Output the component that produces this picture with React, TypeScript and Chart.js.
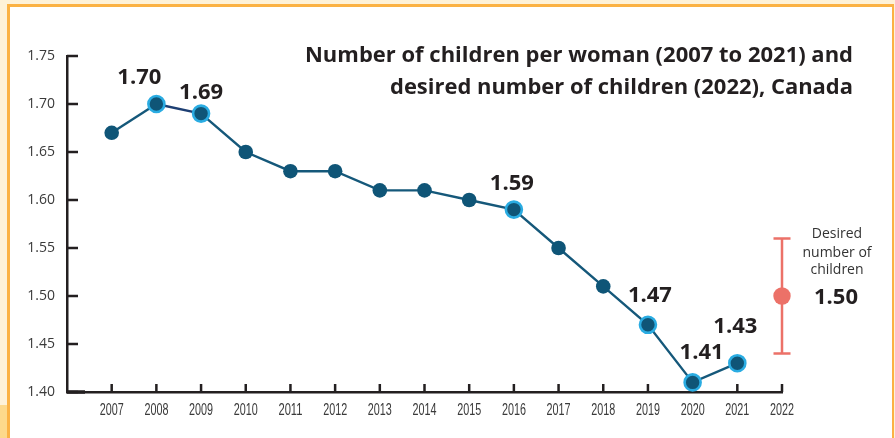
import React, { useEffect, useRef } from 'react';
import { Chart, registerables } from 'chart.js';

Chart.register(...registerables);

// ---- data ----
const years = [2007, 2008, 2009, 2010, 2011, 2012, 2013, 2014, 2015, 2016, 2017, 2018, 2019, 2020, 2021];
const childrenPerWoman = [1.67, 1.70, 1.69, 1.65, 1.63, 1.63, 1.61, 1.61, 1.60, 1.59, 1.55, 1.51, 1.47, 1.41, 1.43];
const highlightedYears = [2008, 2009, 2016, 2019, 2020, 2021];
const desiredYear = 2022;
const desiredValue = 1.50;
const desiredLow = 1.44;
const desiredHigh = 1.56;
const xTickYears = [2007, 2008, 2009, 2010, 2011, 2012, 2013, 2014, 2015, 2016, 2017, 2018, 2019, 2020, 2021, 2022];
const yTickValues = [1.40, 1.45, 1.50, 1.55, 1.60, 1.65, 1.70, 1.75];
const titleLines = [
  'Number of children per woman (2007 to 2021) and',
  'desired number of children (2022), Canada',
];
const desiredLabelLines = ['Desired', 'number of', 'children'];

// ---- layout (label offsets in px from their point) ----
const labelOffsets: Record<number, [number, number]> = {
  2008: [-17, -28],
  2009: [0, -23],
  2016: [-2, -28],
  2019: [2, -31],
  2020: [9, -31],
  2021: [-2, -38],
};

const NAVY = '#0f5577';
const LINE = '#15587a';
const LIGHT_BLUE = '#2aace2';
const SALMON = '#ec7168';
const INK = '#231f20';
const AXIS_TEXT = '#3a3a3a';
const ORANGE = '#fbb244';

const overlayPlugin = {
  id: 'overlay',
  beforeDatasetsDraw(chart: any) {
    const { ctx } = chart;
    const xs = chart.scales.x;
    const ys = chart.scales.y;
    const area = chart.chartArea;
    ctx.save();
    // inward ticks
    ctx.strokeStyle = INK;
    ctx.lineWidth = 2.5;
    ctx.beginPath();
    for (const v of yTickValues) {
      const y = ys.getPixelForValue(v);
      ctx.moveTo(area.left, y);
      ctx.lineTo(area.left + 11, y);
    }
    for (const v of xTickYears) {
      const x = xs.getPixelForValue(v);
      ctx.moveTo(x, area.bottom);
      ctx.lineTo(x, area.bottom - 8);
    }
    ctx.stroke();
    // thicker start of x axis
    ctx.beginPath();
    ctx.lineWidth = 3.5;
    ctx.moveTo(area.left, area.bottom);
    ctx.lineTo(area.left + 18, area.bottom);
    ctx.stroke();
    // x tick labels (condensed)
    ctx.fillStyle = AXIS_TEXT;
    ctx.font = '16px "Liberation Sans", "DejaVu Sans", sans-serif';
    ctx.textAlign = 'center';
    ctx.textBaseline = 'alphabetic';
    for (const v of xTickYears) {
      const x = xs.getPixelForValue(v);
      ctx.fillText(String(v), x, area.bottom + 22.5, 24);
    }
    // desired error bar
    const ex = xs.getPixelForValue(desiredYear);
    const yTop = ys.getPixelForValue(desiredHigh);
    const yBot = ys.getPixelForValue(desiredLow);
    ctx.strokeStyle = SALMON;
    ctx.lineWidth = 2.5;
    ctx.beginPath();
    ctx.moveTo(ex, yTop);
    ctx.lineTo(ex, yBot);
    ctx.moveTo(ex - 8.5, yTop);
    ctx.lineTo(ex + 8.5, yTop);
    ctx.moveTo(ex - 8.5, yBot);
    ctx.lineTo(ex + 8.5, yBot);
    ctx.stroke();
    ctx.restore();
  },
  afterDatasetsDraw(chart: any) {
    const { ctx } = chart;
    const xs = chart.scales.x;
    const ys = chart.scales.y;
    ctx.save();
    ctx.fillStyle = INK;
    ctx.textAlign = 'center';
    ctx.textBaseline = 'alphabetic';
    ctx.font = 'bold 22px "Open Sans", sans-serif';
    for (const yr of highlightedYears) {
      const i = years.indexOf(yr);
      const v = childrenPerWoman[i];
      const [dx, dy] = labelOffsets[yr];
      const px = xs.getPixelForValue(yr);
      const py = ys.getPixelForValue(v);
      ctx.fillText(v.toFixed(2), px + dx, py + dy + 8);
    }
    // desired text
    const ex = xs.getPixelForValue(desiredYear);
    const ey = ys.getPixelForValue(desiredValue);
    ctx.fillText(desiredValue.toFixed(2), ex + 54, ey + 7.5);
    ctx.font = '14px "Open Sans", sans-serif';
    ctx.fillStyle = '#333333';
    ctx.textBaseline = 'middle';
    const lineYs = [-62, -43, -26];
    desiredLabelLines.forEach((t, k) => ctx.fillText(t, ex + 55, ey + lineYs[k]));
    // title
    ctx.fillStyle = INK;
    ctx.textAlign = 'right';
    ctx.textBaseline = 'alphabetic';
    ctx.font = 'bold 22px "Open Sans", sans-serif';
    ctx.fillText(titleLines[0], 853, 62, 548);
    ctx.fillText(titleLines[1], 853, 94, 463);
    ctx.restore();
  },
};

export default function App() {
  const canvasRef = useRef<HTMLCanvasElement | null>(null);

  useEffect(() => {
    const canvas = canvasRef.current;
    if (!canvas) return;
    const chart = new Chart(canvas, {
      type: 'line',
      data: {
        datasets: [
          {
            data: years.map((y, i) => ({ x: y, y: childrenPerWoman[i] })),
            borderColor: LINE,
            borderWidth: 2.4,
            segment: {
              borderColor: (c: any) => (c.p0DataIndex === 1 ? '#1d3f73' : LINE),
            },
            pointBackgroundColor: NAVY,
            pointRadius: (c: any) => (highlightedYears.includes(years[c.dataIndex]) ? 8 : 7.3),
            pointBorderWidth: (c: any) => (highlightedYears.includes(years[c.dataIndex]) ? 2.6 : 0),
            pointBorderColor: (c: any) => (highlightedYears.includes(years[c.dataIndex]) ? LIGHT_BLUE : NAVY),
            pointHoverRadius: 8,
            tension: 0,
            clip: false as any,
          },
          {
            data: [{ x: desiredYear, y: desiredValue }],
            showLine: false,
            pointRadius: 8.7,
            pointBorderWidth: 0,
            pointBackgroundColor: SALMON,
            pointBorderColor: SALMON,
            clip: false as any,
          },
        ],
      },
      options: {
        responsive: false,
        animation: false,
        devicePixelRatio: 1,
        layout: { padding: { top: 56, right: 113, left: 0, bottom: 0 } },
        plugins: { legend: { display: false }, tooltip: { enabled: false }, title: { display: false } },
        scales: {
          x: {
            type: 'linear',
            min: 2006,
            max: 2022,
            afterBuildTicks: (axis: any) => {
              axis.ticks = xTickYears.map((v) => ({ value: v }));
            },
            afterFit: (axis: any) => {
              axis.height = 46;
            },
            grid: { display: false, drawTicks: false },
            border: { display: true, color: INK, width: 2.5 },
            ticks: { display: false },
          },
          y: {
            type: 'linear',
            min: 1.4,
            max: 1.75,
            afterBuildTicks: (axis: any) => {
              axis.ticks = yTickValues.map((v) => ({ value: v }));
            },
            afterFit: (axis: any) => {
              axis.width = 67;
            },
            grid: { display: false, drawTicks: false },
            border: { display: true, color: INK, width: 2.5 },
            ticks: {
              padding: 12,
              color: AXIS_TEXT,
              font: { family: '"Open Sans", sans-serif', size: 14 },
              callback: (v: any) => Number(v).toFixed(2),
              autoSkip: false,
            },
          },
        },
      },
      plugins: [overlayPlugin],
    } as any);
    return () => chart.destroy();
  }, []);

  return (
    <div style={{ position: 'fixed', left: 0, top: 0, width: 895, height: 438, background: '#fef2d8', overflow: 'hidden' }}>
      <div style={{ position: 'absolute', left: 0, top: 405, width: 7, height: 33, background: '#fdd98b' }} />
      <div
        style={{
          position: 'absolute',
          left: 7,
          top: 4,
          width: 887,
          height: 450,
          boxSizing: 'border-box',
          background: '#ffffff',
          borderTop: `3px solid ${ORANGE}`,
          borderLeft: `3px solid ${ORANGE}`,
          borderRight: `2px solid ${ORANGE}`,
        }}
      />
      <canvas ref={canvasRef} width={895} height={438} style={{ position: 'absolute', left: 0, top: 0, width: 895, height: 438 }} />
    </div>
  );
}
